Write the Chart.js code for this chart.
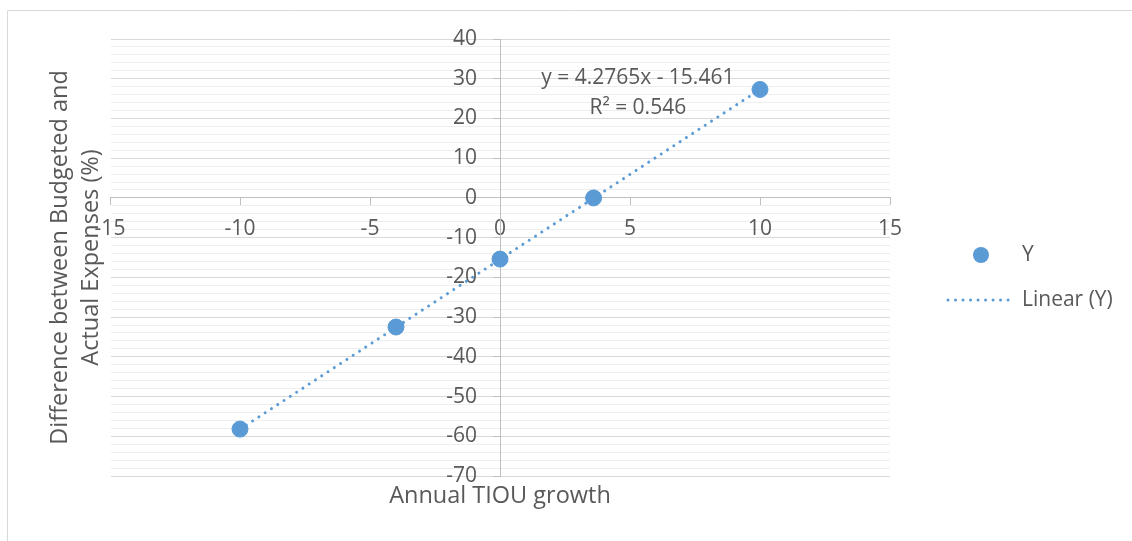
<!DOCTYPE html>
<html>
<head>
<meta charset="utf-8">
<script src="https://cdn.jsdelivr.net/npm/chart.js@4/dist/chart.umd.min.js"></script>
<style>
  html, body { margin: 0; padding: 0; background: #ffffff; }
  canvas { display: block; }
</style>
</head>
<body>
<canvas id="chart" width="1132" height="541"></canvas>
<script>
// Observations: annual TIOU growth vs. budget/actual expense gap (%)
const growth = [-10, -4, 0, 3.6, 10];
const difference = [-58.2, -32.5, -15.4, 0, 27.3];

// Linear trend as reported in the equation label
const trendSlope = 4.2765;
const trendIntercept = -15.461;
const trendRsq = 0.546;
const trendRange = [-10, 10];

// Axis extents and steps
const xRange = [-15, 15];
const xStep = 5;
const yRange = [-70, 40];
const yMajorStep = 10;
const yMinorStep = 2;

const xTitle = 'Annual TIOU growth';
const yTitle = ['Difference between Budgeted and', 'Actual Expenses (%)'];
const seriesName = 'Y';
const trendName = 'Linear (Y)';

const FONT = '"Open Sans", sans-serif';
const FONT_SIZE = 21;
const TITLE_SIZE = 23.5;
const TEXT = '#595959';
const BLUE = '#5b9bd5';
const AXIS = '#bfbfbf';

const points = growth.map((x, i) => ({ x, y: difference[i] }));
const trendPoints = trendRange.map(x => ({ x, y: trendSlope * x + trendIntercept }));

const isMajor = v => Math.abs(v % yMajorStep) < 1e-9;

// Moves the value axis so it crosses the horizontal axis at x = 0
const crossAxes = {
  id: 'crossAxes',
  afterLayout(chart) {
    const ys = chart.scales.y;
    const px = chart.scales.x.getPixelForValue(0);
    ys.left = px - 100;
    ys.right = px;
  }
};

// Frame, axis titles, equation and legend
const decorations = {
  id: 'decorations',
  beforeDraw(chart) {
    const ctx = chart.ctx;
    ctx.save();
    ctx.strokeStyle = '#d9d9d9';
    ctx.lineWidth = 1;
    ctx.beginPath();
    ctx.moveTo(7.5, chart.height + 5);
    ctx.lineTo(7.5, 10.5);
    ctx.lineTo(chart.width + 5, 10.5);
    ctx.stroke();
    ctx.restore();
  },
  afterDraw(chart) {
    const ctx = chart.ctx;
    const area = chart.chartArea;
    const xs = chart.scales.x, ys = chart.scales.y;
    ctx.save();
    ctx.fillStyle = TEXT;
    ctx.textAlign = 'center';
    ctx.textBaseline = 'middle';

    // axis titles
    ctx.font = TITLE_SIZE + 'px ' + FONT;
    ctx.fillText(xTitle, (area.left + area.right) / 2, 496);
    ctx.save();
    ctx.translate(76, (area.top + area.bottom) / 2);
    ctx.rotate(-Math.PI / 2);
    ctx.fillText(yTitle[0], 0, -16);
    ctx.fillText(yTitle[1], 0, 15);
    ctx.restore();

    // trend equation
    ctx.font = FONT_SIZE + 'px ' + FONT;
    const ex = xs.getPixelForValue(5.3);
    const ey = ys.getPixelForValue(30.3);
    ctx.fillText('y = ' + trendSlope + 'x - ' + Math.abs(trendIntercept), ex, ey);
    ctx.fillText('R\u00b2 = ' + trendRsq, ex, ey + 30);

    // legend
    ctx.textAlign = 'left';
    ctx.fillStyle = BLUE;
    ctx.beginPath();
    ctx.arc(981, 255, 8, 0, Math.PI * 2);
    ctx.fill();
    ctx.strokeStyle = BLUE;
    ctx.lineWidth = 3;
    ctx.lineCap = 'round';
    ctx.setLineDash([0.01, 7.5]);
    ctx.beginPath();
    ctx.moveTo(948, 300);
    ctx.lineTo(1014, 300);
    ctx.stroke();
    ctx.setLineDash([]);
    ctx.fillStyle = TEXT;
    ctx.fillText(seriesName, 1022, 255);
    ctx.fillText(trendName, 1022, 300);
    ctx.restore();
  }
};

new Chart(document.getElementById('chart'), {
  type: 'scatter',
  data: {
    datasets: [
      {
        label: seriesName,
        data: points,
        backgroundColor: BLUE,
        borderColor: BLUE,
        pointRadius: 8,
        pointHoverRadius: 8,
        order: 1
      },
      {
        label: trendName,
        type: 'line',
        data: trendPoints,
        borderColor: BLUE,
        borderWidth: 3,
        borderCapStyle: 'round',
        borderDash: [0.01, 7.5],
        pointRadius: 0,
        fill: false,
        order: 2
      }
    ]
  },
  options: {
    responsive: false,
    animation: false,
    devicePixelRatio: 1,
    layout: { padding: { left: 110, right: 242, top: 39, bottom: 65 } },
    plugins: { legend: { display: false }, tooltip: { enabled: false } },
    scales: {
      x: {
        type: 'linear',
        position: { y: 0 },
        min: xRange[0],
        max: xRange[1],
        afterFit: s => { s.height = 0; },
        ticks: {
          stepSize: xStep,
          color: TEXT,
          font: { family: FONT, size: FONT_SIZE },
          padding: 12,
          maxRotation: 0
        },
        grid: {
          display: true,
          drawOnChartArea: false,
          drawTicks: true,
          tickLength: 7,
          tickColor: AXIS
        },
        border: { display: true, color: AXIS, width: 1 }
      },
      y: {
        type: 'linear',
        position: 'left',
        min: yRange[0],
        max: yRange[1],
        afterFit: s => { s.width = 0; },
        ticks: {
          stepSize: yMinorStep,
          autoSkip: false,
          color: TEXT,
          font: { family: FONT, size: FONT_SIZE },
          padding: 16,
          callback: v => (isMajor(v) ? String(v) : '')
        },
        grid: {
          color: c => (isMajor(c.tick.value) ? '#d9d9d9' : '#eeeeee'),
          tickColor: c => (isMajor(c.tick.value) ? AXIS : 'rgba(0,0,0,0)'),
          tickLength: 7,
          lineWidth: 1
        },
        border: { display: true, color: AXIS, width: 1 }
      }
    }
  },
  plugins: [crossAxes, decorations]
});
</script>
</body>
</html>
